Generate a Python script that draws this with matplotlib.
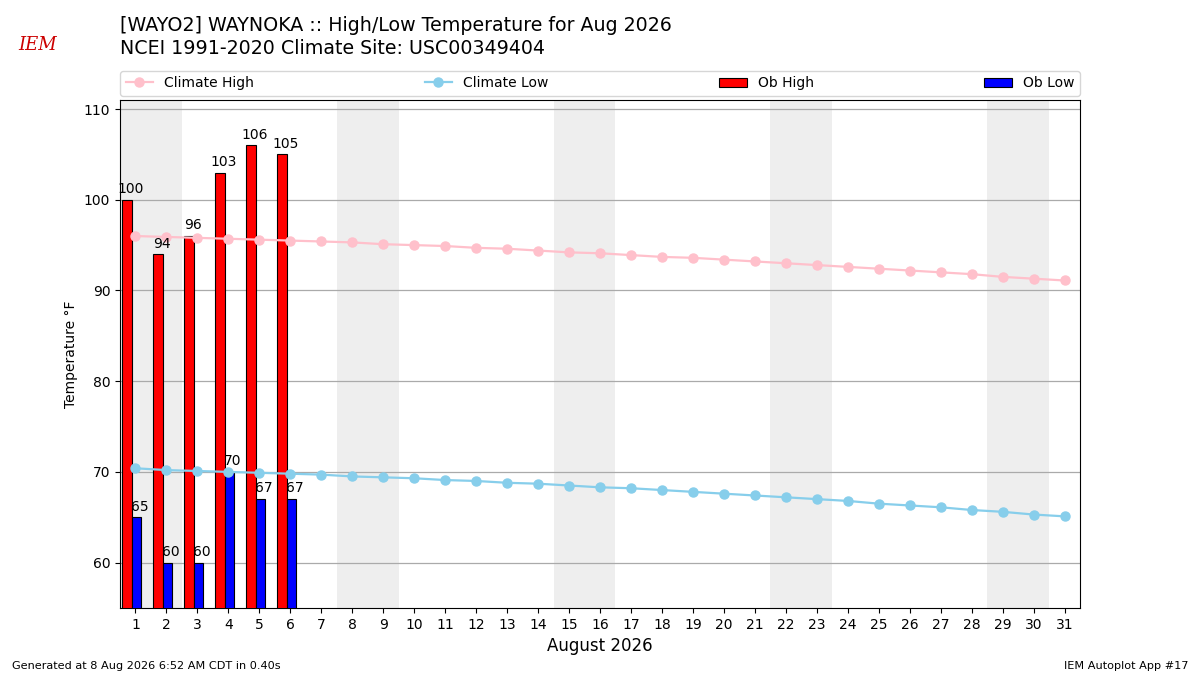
import numpy as np
import matplotlib
matplotlib.use("Agg")
import matplotlib.pyplot as plt

days = list(range(1, 32))
climate_high = [96.0, 95.9, 95.8, 95.7, 95.6, 95.5, 95.4, 95.3, 95.1, 95.0,
                94.9, 94.7, 94.6, 94.4, 94.2, 94.1, 93.9, 93.7, 93.6, 93.4,
                93.2, 93.0, 92.8, 92.6, 92.4, 92.2, 92.0, 91.8, 91.5, 91.3, 91.1]
climate_low = [70.4, 70.2, 70.1, 70.0, 69.9, 69.8, 69.7, 69.5, 69.4, 69.3,
               69.1, 69.0, 68.8, 68.7, 68.5, 68.3, 68.2, 68.0, 67.8, 67.6,
               67.4, 67.2, 67.0, 66.8, 66.5, 66.3, 66.1, 65.8, 65.6, 65.3, 65.1]
ob_days = [1, 2, 3, 4, 5, 6]
ob_high = [100, 94, 96, 103, 106, 105]
ob_low = [65, 60, 60, 70, 67, 67]
weekend_starts = [1, 8, 15, 22, 29]

fig = plt.figure(figsize=(12, 6.75), dpi=100)
ax = fig.add_axes([0.1, 0.0993, 0.8, 0.7526])

for d in weekend_starts:
    ax.axvspan(d - 0.5, d + 1.5, color="#EEEEEE", zorder=0, lw=0)

ax.grid(axis="y", color="#aaaaaa", lw=0.9, zorder=1)
ax.set_axisbelow(True)

od = np.array(ob_days)
ax.bar(od - 0.43, ob_high, width=0.31, align="edge", color="red",
       edgecolor="black", lw=0.8, label="Ob High", zorder=3)
ax.bar(od - 0.12, ob_low, width=0.29, align="edge", color="blue",
       edgecolor="black", lw=0.8, label="Ob Low", zorder=3)
for d, h, l in zip(ob_days, ob_high, ob_low):
    ax.text(d - 0.15, h + 0.4, f"{h}", ha="center", va="bottom", fontsize=10, zorder=5)
    ax.text(d + 0.15, l + 0.4, f"{l}", ha="center", va="bottom", fontsize=10, zorder=5)

ax.plot(days, climate_high, color="pink", marker="o", ms=6.5, lw=1.6,
        label="Climate High", zorder=4)
ax.plot(days, climate_low, color="skyblue", marker="o", ms=6.5, lw=1.6,
        label="Climate Low", zorder=4)

ax.set_xlim(0.5, 31.5)
ax.set_ylim(55, 111)
ax.set_xticks(days)
ax.set_xticklabels([str(d) for d in days], fontsize=10)
ax.set_yticks([60, 70, 80, 90, 100, 110])
ax.tick_params(labelsize=10)
ax.set_xlabel("August 2026", fontsize=12)
ax.set_ylabel("Temperature °F", fontsize=10)

h, lab = ax.get_legend_handles_labels()
order = [lab.index(n) for n in ["Climate High", "Climate Low", "Ob High", "Ob Low"]]
ax.legend([h[i] for i in order], [lab[i] for i in order], ncol=4, mode="expand",
          loc="lower left", bbox_to_anchor=(0.0, 1.008, 1.0, 0.05),
          borderaxespad=0, fontsize=10)

fig.text(0.1, 0.977, "[WAYO2] WAYNOKA :: High/Low Temperature for Aug 2026\n"
         "NCEI 1991-2020 Climate Site: USC00349404",
         ha="left", va="top", fontsize=13.7, linespacing=1.3)
fig.text(0.031, 0.933, "IEM", color="#cc0000", fontsize=13, style="italic",
         family="DejaVu Serif", ha="center", va="center")
fig.text(0.01, 0.006, "Generated at 8 Aug 2026 6:52 AM CDT in 0.40s", fontsize=8.1,
         ha="left", va="bottom")
fig.text(0.99, 0.006, "IEM Autoplot App #17", fontsize=8.1, ha="right", va="bottom")

fig.savefig("out.png", dpi=100)
